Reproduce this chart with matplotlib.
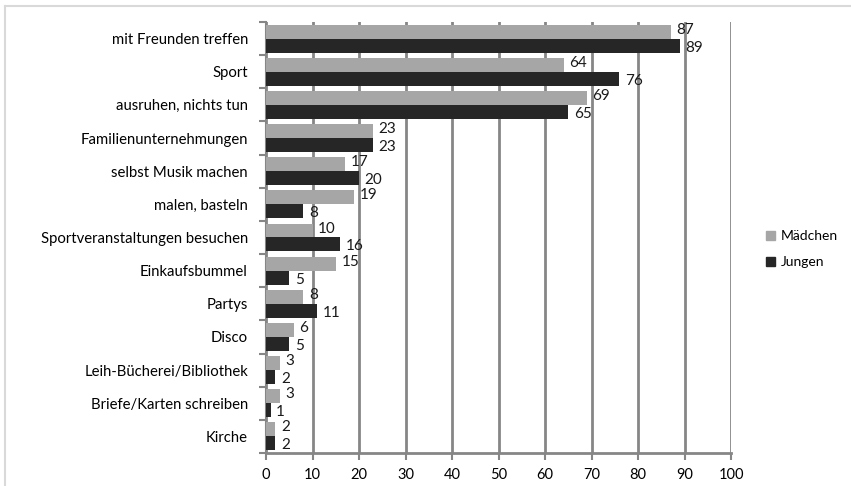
import matplotlib
matplotlib.use("Agg")
import matplotlib.pyplot as plt
import numpy as np
from matplotlib.lines import Line2D
from matplotlib.patches import Patch

categories = [
    "mit Freunden treffen",
    "Sport",
    "ausruhen, nichts tun",
    "Familienunternehmungen",
    "selbst Musik machen",
    "malen, basteln",
    "Sportveranstaltungen besuchen",
    "Einkaufsbummel",
    "Partys",
    "Disco",
    "Leih-Bücherei/Bibliothek",
    "Briefe/Karten schreiben",
    "Kirche",
]
maedchen = [87, 64, 69, 23, 17, 19, 10, 15, 8, 6, 3, 3, 2]
jungen = [89, 76, 65, 23, 20, 8, 16, 5, 11, 5, 2, 1, 2]
series_names = ["Mädchen", "Jungen"]

GREY = "#a6a6a6"
DARK = "#262626"
GRID = "#868686"

plt.rcParams["font.family"] = ["Lato", "DejaVu Sans"]

fig = plt.figure(figsize=(8.51, 4.86), dpi=100)
ax = fig.add_axes([0.3126, 0.068, 0.5464, 0.8867])

n = len(categories)
y = np.arange(n)
h = 0.42

ax.barh(y - h / 2, maedchen, height=h, color=GREY, zorder=3, label=series_names[0])
ax.barh(y + h / 2, jungen, height=h, color=DARK, zorder=3, label=series_names[1])

# value labels: girls slightly above, boys slightly below the bar centre
for yi, v in zip(y, maedchen):
    ax.text(v + 1.2, yi - h / 2 - 0.06, str(v), va="center", ha="left", fontsize=11, color="#1a1a1a", zorder=4)
for yi, v in zip(y, jungen):
    ax.text(v + 1.2, yi + h / 2 + 0.06, str(v), va="center", ha="left", fontsize=11, color="#1a1a1a", zorder=4)

ax.set_ylim(n - 0.5, -0.5)
ax.set_xlim(0, 100)
ax.set_xticks(np.arange(0, 101, 10))
ax.set_yticks(y)
ax.set_yticklabels(categories, fontsize=10.7)
ax.set_yticks(np.arange(n + 1) - 0.5, minor=True)
ax.tick_params(axis="y", which="major", length=0, pad=13)
ax.tick_params(axis="y", which="minor", length=5, width=1.5, color=GRID)
ax.tick_params(axis="x", length=5, width=1.5, color=GRID, labelsize=10.5, pad=6)

ax.grid(axis="x", color=GRID, linewidth=2, zorder=1)
for side in ["top", "right"]:
    ax.spines[side].set_visible(False)
ax.spines["left"].set_color(GRID)
ax.spines["left"].set_linewidth(1.5)
ax.spines["bottom"].set_color(GRID)
ax.spines["bottom"].set_linewidth(2)

handles = [Patch(color=GREY), Patch(color=DARK)]
fig.legend(handles, series_names, loc="center left", bbox_to_anchor=(0.885, 0.487),
           frameon=False, fontsize=10, handlelength=0.7, handleheight=0.7,
           handletextpad=0.4, labelspacing=1.0)

# light frame at the top and left edge
fig.add_artist(Line2D([0.006, 1.0], [0.988, 0.988], color="#d9d9d9", linewidth=1.5))
fig.add_artist(Line2D([0.006, 0.006], [0.0, 0.988], color="#d9d9d9", linewidth=1.5))

fig.savefig("out.png", dpi=100)
